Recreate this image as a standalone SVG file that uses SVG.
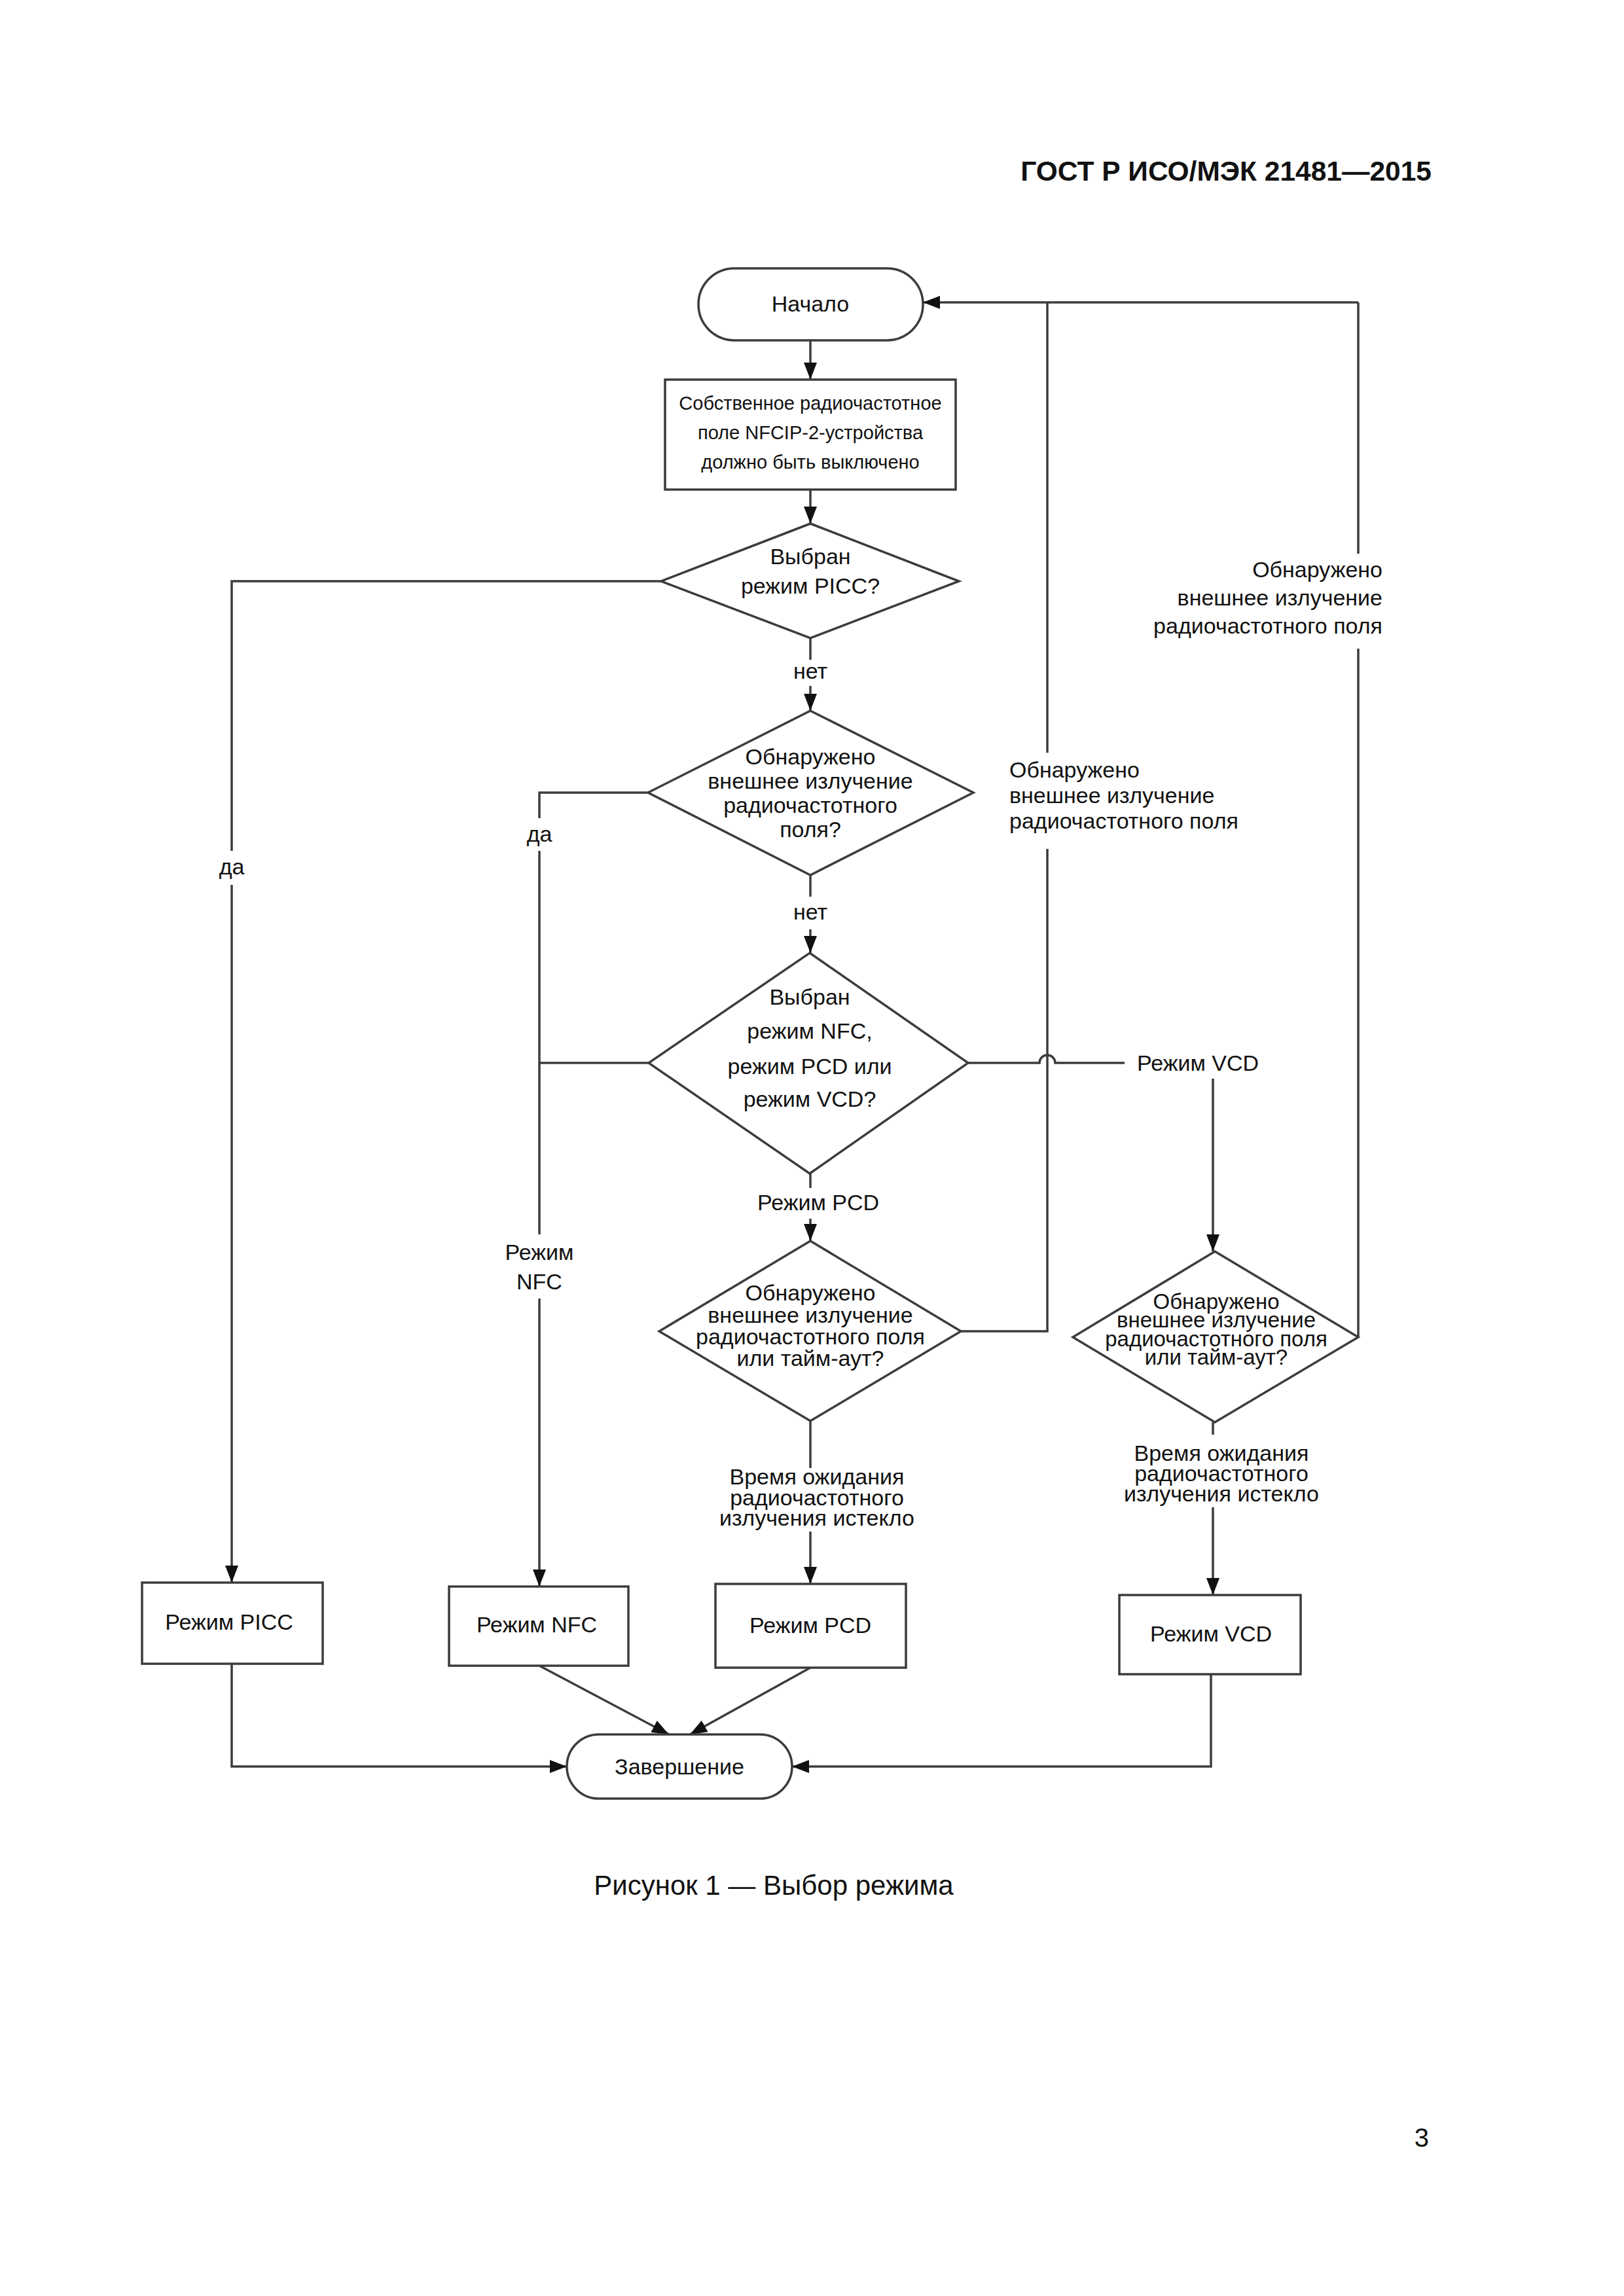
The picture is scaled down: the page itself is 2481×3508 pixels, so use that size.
<svg xmlns="http://www.w3.org/2000/svg" width="2481" height="3508" viewBox="0 0 2481 3508">
<style>
.sh{fill:#fff;stroke:#3c3c3c;stroke-width:3.5}
.cn{fill:none;stroke:#3c3c3c;stroke-width:3.5}
.ar{marker-end:url(#ah)}
text{font-family:"Liberation Sans",Arial,sans-serif;font-size:34px;fill:#111}
.c{text-anchor:middle}
.b{font-size:29px}
.t{font-size:33px}
</style>
<defs>
<marker id="ah" markerUnits="userSpaceOnUse" markerWidth="26" markerHeight="20" refX="26" refY="10" orient="auto">
<path d="M0,0 L26,10 L0,20 z" fill="#111"/>
</marker>
</defs>
<rect width="2481" height="3508" fill="#fff"/>
<text x="2187" y="276" style="font-weight:bold;font-size:42.5px" text-anchor="end">ГОСТ Р ИСО/МЭК 21481—2015</text>

<g id="connectors">
<path class="cn ar" d="M1238,520 V580"/>
<path class="cn ar" d="M1238,748 V800"/>
<path class="cn" d="M1010,888 H354 V1300"/>
<path class="cn ar" d="M354,1352 V2418"/>
<path class="cn" d="M1238,975 V1008"/>
<path class="cn ar" d="M1238,1048 V1086"/>
<path class="cn" d="M990,1211 H824 V1250"/>
<path class="cn" d="M824,1300 V1886"/>
<path class="cn ar" d="M824,1984 V2424"/>
<path class="cn" d="M1238,1337 V1370"/>
<path class="cn ar" d="M1238,1420 V1456"/>
<path class="cn" d="M991,1624 H824"/>
<path class="cn" d="M1479,1624 H1588 A12,12 0 0 1 1612,1624 H1718"/>
<path class="cn ar" d="M1853,1648 V1912"/>
<path class="cn" d="M1238,1793 V1815"/>
<path class="cn ar" d="M1238,1862 V1896"/>
<path class="cn" d="M1468,2034 H1600 V1297"/>
<path class="cn" d="M1600,1150 V462"/>
<path class="cn ar" d="M2075,462 H1410"/>
<path class="cn" d="M2075,2043 V991"/>
<path class="cn" d="M2075,846 V462"/>
<path class="cn" d="M1238,2171 V2243"/>
<path class="cn ar" d="M1238,2340 V2420"/>
<path class="cn" d="M1853,2173 V2192"/>
<path class="cn ar" d="M1853,2303 V2437"/>
<path class="cn ar" d="M354,2542 V2699 H866"/>
<path class="cn ar" d="M1850,2558 V2699 H1210"/>
<path class="cn ar" d="M824,2545 L1022,2650"/>
<path class="cn ar" d="M1238,2548 L1054,2650"/>
<text x="354" y="1336" class="c">да</text>
<text x="824" y="1286" class="c">да</text>
<text x="1238" y="1037" class="c">нет</text>
<text x="1238" y="1405" class="c">нет</text>
<text x="824" y="1925" class="c">Режим</text>
<text x="824" y="1970" class="c">NFC</text>
<text x="1737" y="1636">Режим VCD</text>
<text x="1250" y="1849" class="c">Режим PCD</text>
<text x="1542" y="1188">Обнаружено</text>
<text x="1542" y="1227">внешнее излучение</text>
<text x="1542" y="1266">радиочастотного поля</text>
<text x="2112" y="882" text-anchor="end">Обнаружено</text>
<text x="2112" y="925" text-anchor="end">внешнее излучение</text>
<text x="2112" y="968" text-anchor="end">радиочастотного поля</text>
<text x="1248" y="2268" class="c">Время ожидания</text>
<text x="1248" y="2300" class="c">радиочастотного</text>
<text x="1248" y="2331" class="c">излучения истекло</text>
<text x="1866" y="2232" class="c">Время ожидания</text>
<text x="1866" y="2263" class="c">радиочастотного</text>
<text x="1866" y="2294" class="c">излучения истекло</text>
</g>

<g id="start">
<rect class="sh" x="1067" y="410" width="343" height="110" rx="55"/>
<text x="1238" y="476" class="c">Начало</text>
</g>
<g id="rf-off">
<rect class="sh" x="1016" y="580" width="444" height="168"/>
<text x="1238" y="626" class="c b">Собственное радиочастотное</text>
<text x="1238" y="671" class="c b">поле NFCIP-2-устройства</text>
<text x="1238" y="716" class="c b">должно быть выключено</text>
</g>
<g id="d-picc">
<polygon class="sh" points="1238,800 1465,888 1238,975 1010,888"/>
<text x="1238" y="862" class="c">Выбран</text>
<text x="1238" y="907" class="c">режим PICC?</text>
</g>
<g id="d-rf">
<polygon class="sh" points="1238,1086 1487,1211 1238,1337 990,1211"/>
<text x="1238" y="1168" class="c">Обнаружено</text>
<text x="1238" y="1205" class="c">внешнее излучение</text>
<text x="1238" y="1242" class="c">радиочастотного</text>
<text x="1238" y="1279" class="c">поля?</text>
</g>
<g id="d-mode">
<polygon class="sh" points="1237,1456 1479,1624 1237,1793 991,1624"/>
<text x="1237" y="1535" class="c">Выбран</text>
<text x="1237" y="1587" class="c">режим NFC,</text>
<text x="1237" y="1641" class="c">режим PCD или</text>
<text x="1237" y="1691" class="c">режим VCD?</text>
</g>
<g id="d-pcd">
<polygon class="sh" points="1238,1896 1468,2034 1238,2171 1007,2034"/>
<text x="1238" y="1987" class="c">Обнаружено</text>
<text x="1238" y="2021" class="c">внешнее излучение</text>
<text x="1238" y="2054" class="c">радиочастотного поля</text>
<text x="1238" y="2087" class="c">или тайм-аут?</text>
</g>
<g id="d-vcd">
<polygon class="sh" points="1856,1912 2075,2043 1856,2173 1639,2043"/>
<text x="1858" y="2000" class="c t">Обнаружено</text>
<text x="1858" y="2028" class="c t">внешнее излучение</text>
<text x="1858" y="2057" class="c t">радиочастотного поля</text>
<text x="1858" y="2085" class="c t">или тайм-аут?</text>
</g>
<g id="picc">
<rect class="sh" x="217" y="2418" width="276" height="124"/>
<text x="350" y="2490" class="c">Режим PICC</text>
</g>
<g id="nfc">
<rect class="sh" x="686" y="2424" width="274" height="121"/>
<text x="820" y="2494" class="c">Режим NFC</text>
</g>
<g id="pcd">
<rect class="sh" x="1093" y="2420" width="291" height="128"/>
<text x="1238" y="2495" class="c">Режим PCD</text>
</g>
<g id="vcd">
<rect class="sh" x="1710" y="2437" width="277" height="121"/>
<text x="1850" y="2508" class="c">Режим VCD</text>
</g>
<g id="end">
<rect class="sh" x="866" y="2650" width="344" height="98" rx="49"/>
<text x="1038" y="2711" class="c">Завершение</text>
</g>

<text x="1182" y="2895" class="c" style="font-size:42px">Рисунок 1 — Выбор режима</text>
<text x="2183" y="3280" text-anchor="end" style="font-size:40px">3</text>
</svg>
